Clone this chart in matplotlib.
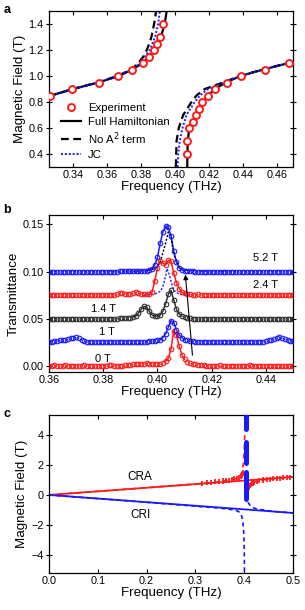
import matplotlib
matplotlib.use("Agg")
import matplotlib.pyplot as plt
import numpy as np

plt.rcParams['font.family'] = ['Liberation Sans', 'DejaVu Sans']

RED = '#ff1a1a'
BLUE = '#1a1aff'
GREY = '#303030'

# ---------------- panel a: anticrossing ----------------
exp_lo_f = [0.3267, 0.3398, 0.3554, 0.3668, 0.3750, 0.3810, 0.3849, 0.3879, 0.3896, 0.3912, 0.3932]
exp_lo_b = [0.85, 0.90, 0.95, 1.00, 1.05, 1.10, 1.15, 1.20, 1.25, 1.30, 1.40]
exp_hi_f = [0.4074, 0.4074, 0.4084, 0.4107, 0.4127, 0.4143, 0.4162, 0.4197, 0.4234, 0.4307, 0.4387, 0.4528, 0.4674]
exp_hi_b = [0.40, 0.50, 0.60, 0.65, 0.70, 0.75, 0.80, 0.85, 0.90, 0.95, 1.00, 1.05, 1.10]

full_lo_f = [0.326, 0.340, 0.355, 0.367, 0.375, 0.381, 0.385, 0.388, 0.3902, 0.3918, 0.3940, 0.3952]
full_lo_b = [0.845, 0.90, 0.95, 1.00, 1.05, 1.10, 1.15, 1.20, 1.25, 1.30, 1.40, 1.50]
full_hi_f = [0.4073, 0.4074, 0.4076, 0.4085, 0.4105, 0.4127, 0.4145, 0.4165, 0.4195, 0.4235, 0.4300, 0.4385, 0.4520, 0.4670, 0.4695]
full_hi_b = [0.30, 0.40, 0.50, 0.60, 0.65, 0.70, 0.75, 0.80, 0.85, 0.90, 0.95, 1.00, 1.05, 1.10, 1.11]

noa2_lo_f = [0.326, 0.340, 0.355, 0.366, 0.3745, 0.3785, 0.3815, 0.3835, 0.3850, 0.3862, 0.3878, 0.3890]
noa2_lo_b = [0.845, 0.90, 0.952, 1.00, 1.05, 1.10, 1.15, 1.20, 1.25, 1.30, 1.40, 1.50]
noa2_hi_f = [0.4006, 0.4010, 0.4023, 0.4049, 0.4098, 0.4127, 0.4176, 0.4283, 0.4381, 0.4518, 0.4664, 0.4695]
noa2_hi_b = [0.30, 0.50, 0.60, 0.70, 0.80, 0.85, 0.90, 0.95, 1.00, 1.05, 1.10, 1.11]

jc_lo_f = [0.326, 0.340, 0.355, 0.3662, 0.3752, 0.3795, 0.3853, 0.3883, 0.3902, 0.3912]
jc_lo_b = [0.845, 0.90, 0.952, 1.00, 1.05, 1.10, 1.20, 1.30, 1.40, 1.50]
jc_hi_f = [0.4016, 0.4020, 0.4029, 0.4045, 0.4068, 0.4117, 0.4147, 0.4195, 0.4287, 0.4385, 0.4520, 0.4670, 0.4695]
jc_hi_b = [0.30, 0.40, 0.50, 0.60, 0.70, 0.80, 0.85, 0.90, 0.95, 1.00, 1.05, 1.10, 1.11]

# ---------------- panel b: transmittance spectra ----------------
freq_b = np.round(np.arange(0.360, 0.4505, 0.001), 3)
t_0T = [0.000, 0.000, 0.001, 0.000, 0.000, 0.000, 0.001, 0.000, 0.000, 0.000,
        0.000, 0.000, 0.000, 0.001, 0.000, 0.000, 0.000, 0.000, 0.000, 0.000,
        0.000, 0.000, 0.001, 0.001, 0.000, 0.000, 0.000, 0.000, 0.001, 0.001,
        0.001, 0.002, 0.002, 0.002, 0.002, 0.002, 0.003, 0.002, 0.002, 0.002,
        0.002, 0.002, 0.003, 0.005, 0.008, 0.018, 0.037, 0.033, 0.021, 0.012,
        0.007, 0.004, 0.003, 0.002, 0.002, 0.001, 0.001, 0.001, 0.000, 0.000,
        0.000, 0.000, 0.000, 0.001, 0.000, 0.000, 0.000, 0.000, 0.000, 0.000,
        0.000, 0.000, 0.000, 0.000, 0.001, 0.000, 0.000, 0.000, 0.000, 0.000,
        0.000, 0.000, 0.000, 0.000, 0.000, 0.000, 0.000, 0.000, 0.000, 0.000, 0.000]
t_1T = [0.025, 0.025, 0.026, 0.026, 0.027, 0.027, 0.028, 0.029, 0.030, 0.030,
        0.031, 0.030, 0.028, 0.026, 0.025, 0.025, 0.025, 0.025, 0.025, 0.025,
        0.025, 0.025, 0.025, 0.025, 0.025, 0.025, 0.025, 0.025, 0.025, 0.025,
        0.025, 0.025, 0.025, 0.025, 0.025, 0.025, 0.025, 0.026, 0.026, 0.026,
        0.027, 0.028, 0.030, 0.034, 0.041, 0.048, 0.046, 0.038, 0.033, 0.030,
        0.028, 0.027, 0.026, 0.026, 0.025, 0.025, 0.025, 0.025, 0.025, 0.025,
        0.025, 0.025, 0.025, 0.025, 0.025, 0.025, 0.025, 0.025, 0.025, 0.025,
        0.025, 0.025, 0.025, 0.025, 0.025, 0.025, 0.025, 0.025, 0.025, 0.025,
        0.026, 0.027, 0.028, 0.029, 0.030, 0.031, 0.030, 0.029, 0.027, 0.026, 0.026]
t_14T = [0.050, 0.050, 0.050, 0.050, 0.050, 0.050, 0.050, 0.050, 0.050, 0.050,
         0.050, 0.050, 0.050, 0.050, 0.050, 0.050, 0.050, 0.050, 0.050, 0.050,
         0.050, 0.050, 0.050, 0.050, 0.050, 0.050, 0.051, 0.051, 0.051, 0.051,
         0.051, 0.052, 0.053, 0.056, 0.060, 0.063, 0.062, 0.058, 0.054, 0.053,
         0.053, 0.054, 0.058, 0.066, 0.076, 0.080, 0.070, 0.060, 0.055, 0.053,
         0.052, 0.051, 0.051, 0.050, 0.050, 0.050, 0.050, 0.050, 0.050, 0.050,
         0.050, 0.050, 0.050, 0.050, 0.050, 0.050, 0.050, 0.050, 0.050, 0.050,
         0.050, 0.050, 0.050, 0.050, 0.050, 0.050, 0.050, 0.050, 0.050, 0.050,
         0.050, 0.050, 0.050, 0.050, 0.050, 0.050, 0.050, 0.050, 0.050, 0.050, 0.050]
t_24T = [0.075, 0.075, 0.075, 0.075, 0.075, 0.075, 0.075, 0.075, 0.075, 0.075,
         0.075, 0.075, 0.075, 0.075, 0.075, 0.075, 0.075, 0.075, 0.075, 0.075,
         0.075, 0.075, 0.075, 0.075, 0.075, 0.076, 0.077, 0.077, 0.076, 0.076,
         0.076, 0.077, 0.078, 0.077, 0.076, 0.076, 0.076, 0.076, 0.078, 0.090,
         0.104, 0.111, 0.109, 0.107, 0.112, 0.111, 0.099, 0.088, 0.082, 0.078,
         0.077, 0.076, 0.076, 0.075, 0.075, 0.076, 0.075, 0.075, 0.075, 0.075,
         0.075, 0.075, 0.075, 0.075, 0.075, 0.075, 0.075, 0.075, 0.075, 0.075,
         0.075, 0.075, 0.075, 0.075, 0.075, 0.075, 0.075, 0.075, 0.075, 0.075,
         0.075, 0.075, 0.075, 0.075, 0.075, 0.075, 0.075, 0.075, 0.075, 0.075, 0.075]
t_52T = [0.100, 0.100, 0.100, 0.100, 0.100, 0.100, 0.100, 0.100, 0.100, 0.100,
         0.100, 0.100, 0.100, 0.100, 0.100, 0.100, 0.100, 0.100, 0.100, 0.100,
         0.100, 0.100, 0.100, 0.100, 0.100, 0.100, 0.101, 0.101, 0.101, 0.101,
         0.101, 0.101, 0.101, 0.101, 0.101, 0.101, 0.101, 0.102, 0.103, 0.107,
         0.115, 0.130, 0.142, 0.148, 0.147, 0.138, 0.122, 0.110, 0.104, 0.102,
         0.101, 0.101, 0.101, 0.101, 0.100, 0.100, 0.100, 0.100, 0.100, 0.100,
         0.100, 0.100, 0.100, 0.100, 0.100, 0.100, 0.100, 0.100, 0.100, 0.100,
         0.100, 0.100, 0.100, 0.100, 0.100, 0.100, 0.100, 0.100, 0.100, 0.100,
         0.100, 0.100, 0.100, 0.100, 0.100, 0.100, 0.100, 0.100, 0.100, 0.100, 0.100]
spectra = [
    # values, colour, fit window (start, end index), label, label position
    (t_0T, RED, (43, 51), '0 T', (0.380, 0.0074)),
    (t_1T, BLUE, (41, 51), '1 T', (0.3813, 0.036)),
    (t_14T, GREY, (31, 50), '1.4 T', (0.380, 0.0603)),
    (t_24T, RED, (37, 51), '2.4 T', (0.440, 0.0857)),
    (t_52T, BLUE, (36, 51), '5.2 T', (0.440, 0.114)),
]
th52_f = [0.380, 0.390, 0.396, 0.399, 0.401, 0.403, 0.404, 0.405, 0.406, 0.408, 0.411, 0.420, 0.430]
th52_t = [0.100, 0.100, 0.101, 0.103, 0.110, 0.130, 0.142, 0.136, 0.118, 0.105, 0.101, 0.100, 0.100]
th24_f = [0.395, 0.399, 0.401, 0.402, 0.403, 0.4035, 0.404, 0.405, 0.406, 0.408, 0.412]
th24_t = [0.075, 0.076, 0.079, 0.084, 0.095, 0.103, 0.100, 0.090, 0.080, 0.076, 0.075]

# ---------------- panel c: full field range ----------------
cr_f = [0.0, 0.5]
cra_b = [0.0, 1.2]
cri_b = [0.0, -1.2]
pol_lo_f = [0.0, 0.30, 0.35, 0.38, 0.390, 0.395, 0.398, 0.400, 0.401, 0.4015]
pol_lo_b = [0.0, 0.73, 0.88, 1.05, 1.20, 1.50, 2.00, 3.00, 4.00, 5.30]
pol_hi_f = [0.4045, 0.407, 0.410, 0.415, 0.420, 0.430, 0.450, 0.500]
pol_hi_b = [-0.30, 0.30, 0.60, 0.75, 0.85, 0.95, 1.05, 1.20]
cri_lo_f = [0.0, 0.10, 0.20, 0.30, 0.35, 0.38, 0.388, 0.394, 0.397, 0.399, 0.400, 0.4005]
cri_lo_b = [0.0, -0.24, -0.49, -0.75, -0.88, -1.00, -1.10, -1.30, -1.70, -2.50, -3.50, -5.20]
cri_hi_f = [0.4045, 0.406, 0.408, 0.412, 0.416, 0.425, 0.440, 0.460, 0.500]
cri_hi_b = [0.00, -0.30, -0.50, -0.70, -0.82, -0.92, -1.00, -1.10, -1.20]
c_exp_f = [0.313, 0.323, 0.332, 0.341, 0.349, 0.356, 0.363, 0.369, 0.374, 0.379, 0.385, 0.389,
           0.393, 0.395, 0.397, 0.398,
           0.408, 0.409, 0.410, 0.411, 0.413, 0.415, 0.417, 0.420,
           0.426, 0.431, 0.439, 0.447, 0.453, 0.458, 0.467, 0.474, 0.480, 0.487, 0.494]
c_exp_b = [0.78, 0.81, 0.84, 0.87, 0.90, 0.93, 0.96, 0.99, 1.02, 1.06, 1.10, 1.16,
           1.24, 1.30, 1.40, 1.50,
           0.40, 0.50, 0.60, 0.65, 0.70, 0.75, 0.80, 0.85,
           0.91, 0.95, 1.00, 1.03, 1.05, 1.07, 1.10, 1.12, 1.14, 1.16, 1.18]
blue_seg_f = 0.403
blue_seg_lo = [4.4, 2.1, -0.3]
blue_seg_hi = [5.3, 3.5, 1.5]

TICK = 7.8
LABEL = 9.6

fig = plt.figure(figsize=(3.05, 6.10), dpi=100)


def style(ax):
    ax.tick_params(axis='both', labelsize=TICK, width=0.8, length=3, direction='in',
                   top=True, right=True, pad=2)
    ax.yaxis.set_tick_params(which='major', direction='inout', length=4)
    for s in ax.spines.values():
        s.set_linewidth(0.9)


# panel a
ax = fig.add_axes([0.1607, 0.7262, 0.80, 0.2557])
ax.plot(full_lo_f, full_lo_b, color='black', lw=1.6, label='Full Hamiltonian', zorder=2)
ax.plot(full_hi_f, full_hi_b, color='black', lw=1.6, zorder=2)
ax.plot(noa2_lo_f, noa2_lo_b, color='black', lw=1.6, ls=(0, (3.5, 2)), label='No A$^2$ term', zorder=2)
ax.plot(noa2_hi_f, noa2_hi_b, color='black', lw=1.6, ls=(0, (3.5, 2)), zorder=2)
ax.plot(jc_lo_f, jc_lo_b, color=BLUE, lw=1.4, ls=(0, (1, 1)), label='JC', zorder=2)
ax.plot(jc_hi_f, jc_hi_b, color=BLUE, lw=1.4, ls=(0, (1, 1)), zorder=2)
ax.plot(exp_lo_f + exp_hi_f, exp_lo_b + exp_hi_b, ls='none', marker='o', ms=5.0, mew=1.4,
        mec=RED, mfc='white', label='Experiment', zorder=3)
ax.set_xlim(0.326, 0.4695)
ax.set_ylim(0.30, 1.50)
ax.set_xticks([0.34, 0.36, 0.38, 0.40, 0.42, 0.44, 0.46])
ax.set_yticks([0.4, 0.6, 0.8, 1.0, 1.2, 1.4])
ax.yaxis.set_major_formatter(matplotlib.ticker.FormatStrFormatter('%.1f'))
style(ax)
ax.set_xlabel('Frequency (THz)', fontsize=LABEL, labelpad=1)
ax.set_ylabel('Magnetic Field (T)', fontsize=LABEL, labelpad=2)
h, l = ax.get_legend_handles_labels()
order = [3, 0, 1, 2]
ax.legend([h[i] for i in order], [l[i] for i in order], loc='lower left', frameon=False,
          fontsize=8.2, handlelength=1.8, handletextpad=0.6, labelspacing=0.3,
          borderaxespad=0.2, bbox_to_anchor=(0.02, 0.0))

# panel b
ax = fig.add_axes([0.1607, 0.3902, 0.80, 0.2574])
for vals, col, (i0, i1), lab, (lx, ly) in spectra:
    ax.plot(freq_b[i0:i1], vals[i0:i1], color=col, lw=1.1, zorder=2)
    ax.plot(freq_b, vals, ls='none', marker='o', ms=3.3, mew=0.8, mec=col, mfc='none', zorder=3)
    ax.text(lx, ly, lab, fontsize=8, ha='center', va='center')
ax.plot(th52_f, th52_t, color='black', lw=1.0, ls=(0, (1.5, 1.2)), zorder=2)
ax.plot(th24_f, th24_t, color=BLUE, lw=1.0, ls=(0, (1.5, 1.2)), zorder=2)
ax.annotate('', xy=(0.4102, 0.0998), xytext=(0.4130, 0.0085),
            arrowprops=dict(arrowstyle='-|>', color='black', lw=0.8, mutation_scale=7))
ax.set_xlim(0.36, 0.45)
ax.set_ylim(-0.0064, 0.160)
ax.set_xticks([0.36, 0.38, 0.40, 0.42, 0.44])
ax.set_yticks([0.00, 0.05, 0.10, 0.15])
ax.yaxis.set_major_formatter(matplotlib.ticker.FormatStrFormatter('%.2f'))
style(ax)
ax.set_xlabel('Frequency (THz)', fontsize=LABEL, labelpad=1)
ax.set_ylabel('Transmittance', fontsize=LABEL, labelpad=2)

# panel c
ax = fig.add_axes([0.1607, 0.0607, 0.80, 0.259])
ax.plot(cr_f, cra_b, color=RED, lw=1.3, zorder=2)
ax.plot(cr_f, cri_b, color=BLUE, lw=1.3, zorder=2)
ax.plot(pol_lo_f, pol_lo_b, color=RED, lw=1.2, ls=(0, (3, 2.5)), zorder=2)
ax.plot(pol_hi_f, pol_hi_b, color=RED, lw=1.2, ls=(0, (3, 2.5)), zorder=2)
ax.plot(cri_lo_f, cri_lo_b, color=BLUE, lw=1.2, ls=(0, (2.5, 2)), zorder=2)
ax.plot(cri_hi_f, cri_hi_b, color=BLUE, lw=1.2, ls=(0, (2.5, 2)), zorder=2)
ax.errorbar(c_exp_f, c_exp_b, yerr=0.17, ls='none', color=RED, elinewidth=1.3, capsize=0, zorder=3)
ax.vlines([blue_seg_f] * 3, blue_seg_lo, blue_seg_hi, color=BLUE, lw=3.6, capstyle='round', zorder=4)
ax.text(0.187, 1.22, 'CRA', fontsize=8.5, ha='center', va='center')
ax.text(0.187, -1.33, 'CRI', fontsize=8.5, ha='center', va='center')
ax.set_xlim(0.0, 0.5)
ax.set_ylim(-5.2, 5.33)
ax.set_xticks([0.0, 0.1, 0.2, 0.3, 0.4, 0.5])
ax.set_yticks([-4, -2, 0, 2, 4])
ax.xaxis.set_major_formatter(matplotlib.ticker.FormatStrFormatter('%.1f'))
style(ax)
ax.set_xlabel('Frequency (THz)', fontsize=LABEL, labelpad=1)
ax.set_ylabel('Magnetic Field (T)', fontsize=LABEL, labelpad=2)

for lab, y in [('a', 0.984), ('b', 0.656), ('c', 0.321)]:
    fig.text(0.012, y, lab, fontsize=9, fontweight='bold', ha='left', va='center')

fig.savefig('out.png', dpi=100)
